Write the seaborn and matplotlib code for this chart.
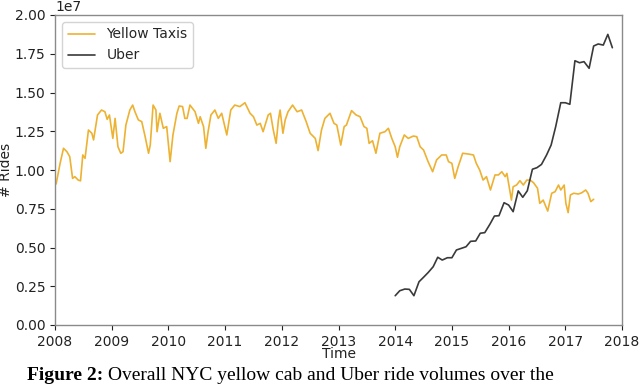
import numpy as np
import pandas as pd
import matplotlib
matplotlib.use("Agg")
import matplotlib.pyplot as plt
import seaborn as sns

# ---- data (values in units of 1e7 rides) ----
taxi_time = [2008.02, 2008.09, 2008.15, 2008.21, 2008.26, 2008.31, 2008.35, 2008.41, 2008.45, 2008.49,
             2008.53, 2008.59, 2008.65, 2008.68, 2008.75, 2008.82, 2008.88, 2008.92, 2008.96, 2009.02,
             2009.06, 2009.11, 2009.16, 2009.20, 2009.25, 2009.32, 2009.37, 2009.41, 2009.47, 2009.53,
             2009.59, 2009.65, 2009.68, 2009.73, 2009.78, 2009.80, 2009.85, 2009.91, 2009.97, 2010.03,
             2010.08, 2010.15, 2010.19, 2010.25, 2010.29, 2010.33, 2010.38, 2010.47, 2010.53, 2010.56,
             2010.62, 2010.66, 2010.70, 2010.75, 2010.82, 2010.88, 2010.94, 2011.03, 2011.10, 2011.17,
             2011.26, 2011.35, 2011.44, 2011.50, 2011.56, 2011.62, 2011.67, 2011.76, 2011.80, 2011.85,
             2011.90, 2011.94, 2011.97, 2012.02, 2012.06, 2012.11, 2012.19, 2012.27, 2012.35, 2012.43,
             2012.50, 2012.59, 2012.64, 2012.70, 2012.76, 2012.85, 2012.92, 2012.97, 2013.04, 2013.10,
             2013.14, 2013.23, 2013.31, 2013.38, 2013.45, 2013.50, 2013.54, 2013.60, 2013.66, 2013.73,
             2013.82, 2013.88, 2013.94, 2014.00, 2014.04, 2014.08, 2014.16, 2014.23, 2014.32, 2014.38,
             2014.44, 2014.50, 2014.58, 2014.66, 2014.73, 2014.82, 2014.90, 2014.94, 2015.00, 2015.05,
             2015.11, 2015.19, 2015.29, 2015.38, 2015.43, 2015.49, 2015.55, 2015.61, 2015.68, 2015.76,
             2015.82, 2015.88, 2015.94, 2015.97, 2016.05, 2016.08, 2016.14, 2016.20, 2016.26, 2016.32,
             2016.38, 2016.44, 2016.51, 2016.55, 2016.61, 2016.69, 2016.76, 2016.82, 2016.88, 2016.92,
             2016.98, 2017.01, 2017.05, 2017.09, 2017.15, 2017.23, 2017.29, 2017.36, 2017.40, 2017.45,
             2017.50]
taxi_rides = [0.910, 1.043, 1.140, 1.118, 1.086, 0.946, 0.957, 0.935, 0.930, 1.097,
              1.075, 1.258, 1.237, 1.194, 1.355, 1.387, 1.376, 1.327, 1.355, 1.204,
              1.333, 1.150, 1.108, 1.118, 1.290, 1.387, 1.419, 1.376, 1.323, 1.312,
              1.215, 1.108, 1.161, 1.419, 1.387, 1.247, 1.366, 1.269, 1.280, 1.054,
              1.226, 1.366, 1.413, 1.409, 1.333, 1.333, 1.419, 1.376, 1.301, 1.344,
              1.280, 1.140, 1.247, 1.355, 1.387, 1.333, 1.366, 1.226, 1.387, 1.419,
              1.409, 1.434, 1.366, 1.344, 1.290, 1.301, 1.247, 1.355, 1.366, 1.258,
              1.172, 1.323, 1.387, 1.237, 1.323, 1.376, 1.419, 1.376, 1.387, 1.312,
              1.237, 1.204, 1.125, 1.258, 1.333, 1.366, 1.301, 1.290, 1.161, 1.280,
              1.290, 1.383, 1.355, 1.344, 1.280, 1.269, 1.172, 1.189, 1.108, 1.237,
              1.247, 1.269, 1.204, 1.150, 1.082, 1.150, 1.226, 1.204, 1.219, 1.215,
              1.150, 1.129, 1.054, 0.989, 1.065, 1.097, 1.097, 1.054, 1.043, 0.946,
              1.021, 1.108, 1.103, 1.097, 1.043, 1.000, 0.935, 0.957, 0.871, 0.968,
              0.968, 0.989, 0.957, 0.978, 0.806, 0.892, 0.903, 0.931, 0.903, 0.935,
              0.935, 0.918, 0.882, 0.785, 0.806, 0.735, 0.850, 0.860, 0.903, 0.871,
              0.903, 0.785, 0.725, 0.839, 0.850, 0.845, 0.853, 0.871, 0.850, 0.796,
              0.811]

uber_time = [2014.00, 2014.08, 2014.17, 2014.25, 2014.33, 2014.42, 2014.50, 2014.58, 2014.67, 2014.75,
             2014.83, 2014.92, 2015.00, 2015.08, 2015.17, 2015.25, 2015.33, 2015.42, 2015.50, 2015.58,
             2015.67, 2015.75, 2015.83, 2015.92, 2016.00, 2016.08, 2016.17, 2016.25, 2016.33, 2016.42,
             2016.50, 2016.58, 2016.67, 2016.75, 2016.83, 2016.92, 2017.00, 2017.08, 2017.17, 2017.25,
             2017.33, 2017.42, 2017.50, 2017.58, 2017.67, 2017.75, 2017.83]
uber_rides = [0.189, 0.221, 0.232, 0.230, 0.189, 0.279, 0.308, 0.338, 0.376, 0.437,
              0.419, 0.434, 0.434, 0.484, 0.495, 0.505, 0.540, 0.542, 0.592, 0.596,
              0.650, 0.703, 0.705, 0.789, 0.774, 0.731, 0.865, 0.824, 0.866, 1.005,
              1.015, 1.036, 1.097, 1.161, 1.279, 1.434, 1.434, 1.424, 1.705, 1.692,
              1.699, 1.656, 1.800, 1.813, 1.806, 1.875, 1.789]

series_names = ["Yellow Taxis", "Uber"]
year_ticks = [2008, 2009, 2010, 2011, 2012, 2013, 2014, 2015, 2016, 2017, 2018]
y_ticks = [0.0, 0.25, 0.5, 0.75, 1.0, 1.25, 1.5, 1.75, 2.0]

df = pd.concat([
    pd.DataFrame({"Time": taxi_time, "Rides": np.array(taxi_rides) * 1e7, "series": series_names[0]}),
    pd.DataFrame({"Time": uber_time, "Rides": np.array(uber_rides) * 1e7, "series": series_names[1]}),
], ignore_index=True)

sns.set_theme(style="ticks")
plt.rcParams["font.family"] = ["DejaVu Sans"]

fig = plt.figure(figsize=(6.4, 3.85), dpi=100)
ax = fig.add_axes([55 / 640, 60 / 385, 567 / 640, 310 / 385])

palette = {"Yellow Taxis": "#EDB232", "Uber": "#3a3a3a"}
sns.lineplot(data=df, x="Time", y="Rides", hue="series", palette=palette,
             estimator=None, linewidth=1.2, ax=ax)

ax.set_xlim(2008, 2018)
ax.set_ylim(0, 2e7)
ax.set_xticks(year_ticks)
ax.set_xticklabels([str(y) for y in year_ticks])
ax.set_yticks([v * 1e7 for v in y_ticks])
ax.tick_params(labelsize=10, colors="#222222", length=3.5, width=0.8)
for lab in ax.get_xticklabels() + ax.get_yticklabels():
    lab.set_color("#222222")
ax.yaxis.get_offset_text().set_fontsize(10)
for s in ax.spines.values():
    s.set_color("#8a8a8a")
    s.set_linewidth(1.0)
ax.set_xlabel("Time", fontsize=10, color="#222222", labelpad=-1)
ax.set_ylabel("# Rides", fontsize=10, color="#222222")
ax.yaxis.set_label_coords(-42 / 567, 0.5)

handles, labels = ax.get_legend_handles_labels()
ax.legend(handles, labels, loc="upper left", fontsize=10, frameon=True,
          edgecolor="#d0d0d0", framealpha=0.9)

# caption below the chart
cap_y = 5 / 385
t1 = fig.text(27 / 640, cap_y, "Figure 2:", fontsize=14, fontweight="bold",
              family="Liberation Serif", va="baseline", ha="left", color="black")
fig.canvas.draw()
r = fig.canvas.get_renderer()
bb = t1.get_window_extent(r)
t2 = fig.text((bb.x1 + 5) / 640, cap_y, "Overall NYC yellow cab and Uber ride volumes over the",
              fontsize=14, family="Liberation Serif", va="baseline", ha="left", color="black")

fig.savefig("out.png", dpi=100)
